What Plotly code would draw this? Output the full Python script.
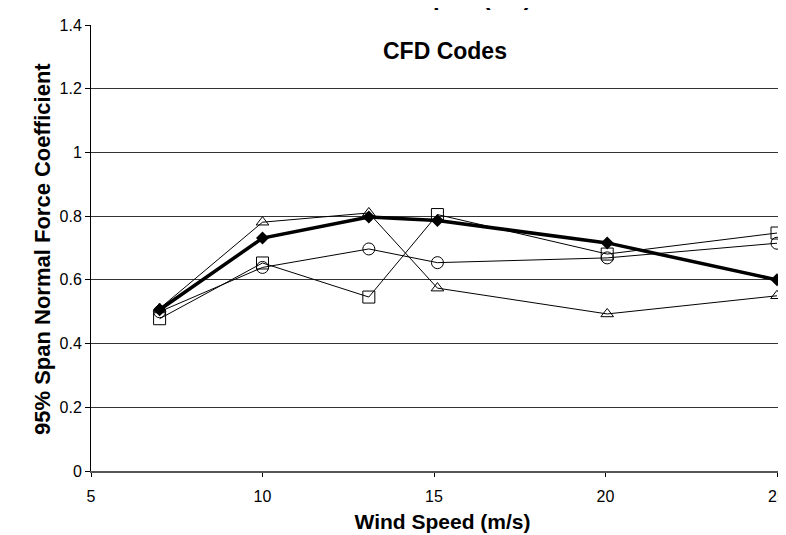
import plotly.graph_objects as go

wind_speed = [7, 10, 13.1, 15.1, 20.05, 25]
code_diamond = [0.506, 0.731, 0.797, 0.786, 0.716, 0.600]
code_triangle = [0.510, 0.781, 0.810, 0.574, 0.493, 0.550]
code_circle = [0.500, 0.639, 0.697, 0.654, 0.669, 0.715]
code_square = [0.478, 0.653, 0.546, 0.805, 0.681, 0.747]

y_ticks = [0, 0.2, 0.4, 0.6, 0.8, 1, 1.2, 1.4]
y_tick_labels = ["0", "0.2", "0.4", "0.6", "0.8", "1", "1.2", "1.4"]
x_ticks = [5, 10, 15, 20, 25]

FONT = "Liberation Sans, Arial, sans-serif"

# plot-area geometry in pixels
L, T, B, W, H = 83, 17, 72, 786, 535
PW = W - L
PH = H - T - B
PX_PER_UNIT_X = 34.3

fig = go.Figure()

thin = dict(color="black", width=1)
fig.add_trace(go.Scatter(x=wind_speed, y=code_triangle, mode="lines+markers",
                         line=thin, name="Code B",
                         marker=dict(symbol="triangle-up-open", size=11, color="black",
                                     line=dict(width=1, color="black"))))
fig.add_trace(go.Scatter(x=wind_speed, y=code_circle, mode="lines+markers",
                         line=thin, name="Code C",
                         marker=dict(symbol="circle-open", size=12, color="black",
                                     line=dict(width=1, color="black"))))
fig.add_trace(go.Scatter(x=wind_speed, y=code_square, mode="lines+markers",
                         line=thin, name="Code D",
                         marker=dict(symbol="square-open", size=12, color="black",
                                     line=dict(width=1, color="black"))))
fig.add_trace(go.Scatter(x=wind_speed, y=code_diamond, mode="lines+markers",
                         line=dict(color="black", width=3.5), name="Code A",
                         marker=dict(symbol="diamond", size=10, color="black")))

fig.update_layout(
    width=W, height=H,
    margin=dict(l=L, r=0, t=T, b=B),
    paper_bgcolor="white", plot_bgcolor="white",
    showlegend=False,
    font=dict(family=FONT, size=16, color="black"),
    annotations=[
        dict(text="<b>CFD Codes</b>", x=(437 - L) / PW, y=(H - B - 43) / PH,
             xref="paper", yref="paper", showarrow=False,
             xanchor="center", yanchor="middle",
             font=dict(family=FONT, size=23, color="black")),
        dict(text="<b>95% Span Normal Force Coefficient</b>",
             x=(34 - L) / PW, y=(H - B - 241) / PH,
             xref="paper", yref="paper", showarrow=False, textangle=-90,
             xanchor="center", yanchor="middle",
             font=dict(family=FONT, size=22, color="black")),
        # chart title, mostly cut off above the top edge as in the reference
        dict(text="<b>Normal Force at 95% Span (r/R)</b>",
             x=(526 - L) / PW, y=1.0, xref="paper", yref="paper",
             xanchor="right", yanchor="bottom", yshift=13, showarrow=False,
             font=dict(family=FONT, size=24, color="black")),
    ],
)

fig.update_xaxes(
    range=[5, 5 + PW / PX_PER_UNIT_X], tickvals=x_ticks, showgrid=False,
    showline=True, linecolor="#555555", linewidth=1.5,
    ticks="outside", ticklen=4, tickcolor="black",
    ticklabelstandoff=6,
    tickfont=dict(family=FONT, size=16),
    title=dict(text="<b>Wind Speed (m/s)</b>", font=dict(family=FONT, size=21), standoff=10),
    zeroline=False,
)
fig.update_yaxes(
    range=[0, 1.4], tickvals=y_ticks, ticktext=y_tick_labels,
    showgrid=True, gridcolor="#333333", gridwidth=1,
    showline=True, linecolor="black", linewidth=1,
    ticks="outside", ticklen=5, tickcolor="black",
    tickfont=dict(family=FONT, size=16),
    zeroline=False,
)

fig.write_html("out.html")
